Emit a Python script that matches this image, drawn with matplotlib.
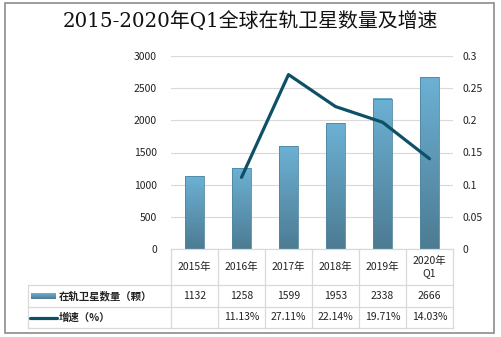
import numpy as np
import matplotlib
matplotlib.use("Agg")
import matplotlib.pyplot as plt
from matplotlib.colors import LinearSegmentedColormap
from matplotlib.patches import Rectangle
from matplotlib.lines import Line2D

plt.rcParams["font.family"] = ["Noto Sans CJK SC", "DejaVu Sans"]

# data
years = ["2015年", "2016年", "2017年", "2018年", "2019年", "2020年\nQ1"]
satellites = [1132, 1258, 1599, 1953, 2338, 2666]
growth = [None, 0.1113, 0.2711, 0.2214, 0.1971, 0.1403]
growth_labels = ["", "11.13%", "27.11%", "22.14%", "19.71%", "14.03%"]
left_ticks = [0, 500, 1000, 1500, 2000, 2500, 3000]
right_ticks = [0, 0.05, 0.1, 0.15, 0.2, 0.25, 0.3]
right_tick_labels = ["0", "0.05", "0.1", "0.15", "0.2", "0.25", "0.3"]

W, H = 501, 337
fig = plt.figure(figsize=(W / 100, H / 100), dpi=100)

def fx(px):
    return px / W

def fy(py):
    return 1 - py / H

# outer border
fig.patches.append(Rectangle((fx(5), fy(333)), fx(494) - fx(5), fy(3) - fy(333),
                             transform=fig.transFigure, fill=False,
                             edgecolor="#8c8c8c", linewidth=1.2))

fig.text(0.5, fy(21), "2015-2020年Q1全球在轨卫星数量及增速", ha="center", va="center",
         fontsize=14.3, color="#111111", family=["DejaVu Serif", "Noto Sans CJK SC"])

x0, x1, ytop, ybot = 171, 453, 56, 249
ax = fig.add_axes([fx(x0), fy(ybot), fx(x1) - fx(x0), fy(ytop) - fy(ybot)])
n = len(years)
xs = np.arange(n)

grad = LinearSegmentedColormap.from_list("bar", ["#4d7b92", "#6cb1d4"])
bars = ax.bar(xs, satellites, width=0.4, color="none", edgecolor="#4f86a0",
              linewidth=0.6, zorder=3)
g = np.linspace(0, 1, 256).reshape(-1, 1)
for b in bars:
    x, w, h = b.get_x(), b.get_width(), b.get_height()
    ax.imshow(g, extent=[x, x + w, 0, h], origin="lower", cmap=grad,
              aspect="auto", zorder=2)
ax.set_xlim(-0.5, n - 0.5)
ax.set_ylim(0, 3000)

ax.set_yticks(left_ticks)
ax.set_yticklabels([str(t) for t in left_ticks], fontsize=7.5, color="#222222")
ax.grid(axis="y", color="#d9d9d9", linewidth=0.8, zorder=0)
ax.set_xticks([])
ax.tick_params(axis="y", length=0, pad=10)
for s in ax.spines.values():
    s.set_visible(False)

ax2 = ax.twinx()
ax2.set_ylim(0, 0.3)
gx = [i for i, v in enumerate(growth) if v is not None]
gy = [v for v in growth if v is not None]
ax2.plot(gx, gy, color="#0e5068", linewidth=2.3, solid_capstyle="round", zorder=4)
ax2.set_yticks(right_ticks)
ax2.set_yticklabels(right_tick_labels, fontsize=7.5, color="#222222")
ax2.tick_params(axis="y", length=0, pad=7)
for s in ax2.spines.values():
    s.set_visible(False)

# data table
lc = "#d9d9d9"
col_w = (x1 - x0) / n
tbl_left = 28
rows = [249, 285, 307, 328]

def hline(px0, px1, py):
    fig.add_artist(Line2D([fx(px0), fx(px1)], [fy(py), fy(py)], color=lc, linewidth=0.9))

def vline(px, py0, py1):
    fig.add_artist(Line2D([fx(px), fx(px)], [fy(py0), fy(py1)], color=lc, linewidth=0.9))

hline(x0, x1, rows[0])
for r in rows[1:]:
    hline(tbl_left, x1, r)
for i in range(n + 1):
    vline(x0 + i * col_w, rows[0], rows[3])
vline(tbl_left, rows[1], rows[3])

for i in range(n):
    cx = fx(x0 + (i + 0.5) * col_w)
    fig.text(cx, fy((rows[0] + rows[1]) / 2), years[i], ha="center", va="center",
             fontsize=7.5, color="#222222", linespacing=1.3)
    fig.text(cx, fy((rows[1] + rows[2]) / 2), str(satellites[i]), ha="center",
             va="center", fontsize=7.5, color="#222222")
    fig.text(cx, fy((rows[2] + rows[3]) / 2), growth_labels[i], ha="center",
             va="center", fontsize=7.5, color="#222222")

# legend keys in table
r1 = (rows[1] + rows[2]) / 2
r2 = (rows[2] + rows[3]) / 2
kax = fig.add_axes([fx(31), fy(r1 + 3), fx(56) - fx(31), fy(r1 - 3) - fy(r1 + 3)])
kax.imshow(g, cmap=grad, origin="lower", aspect="auto")
kax.axis("off")
fig.add_artist(Line2D([fx(30), fx(57)], [fy(r2), fy(r2)], color="#0e5068", linewidth=2.3,
                      solid_capstyle="round"))
fig.text(fx(59), fy(r1), "在轨卫星数量（颗）", ha="left", va="center", fontsize=7.5,
         color="#222222", fontweight="bold")
fig.text(fx(59), fy(r2), "增速（%）", ha="left", va="center", fontsize=7.5,
         color="#222222", fontweight="bold")

fig.savefig("out.png", dpi=100)
